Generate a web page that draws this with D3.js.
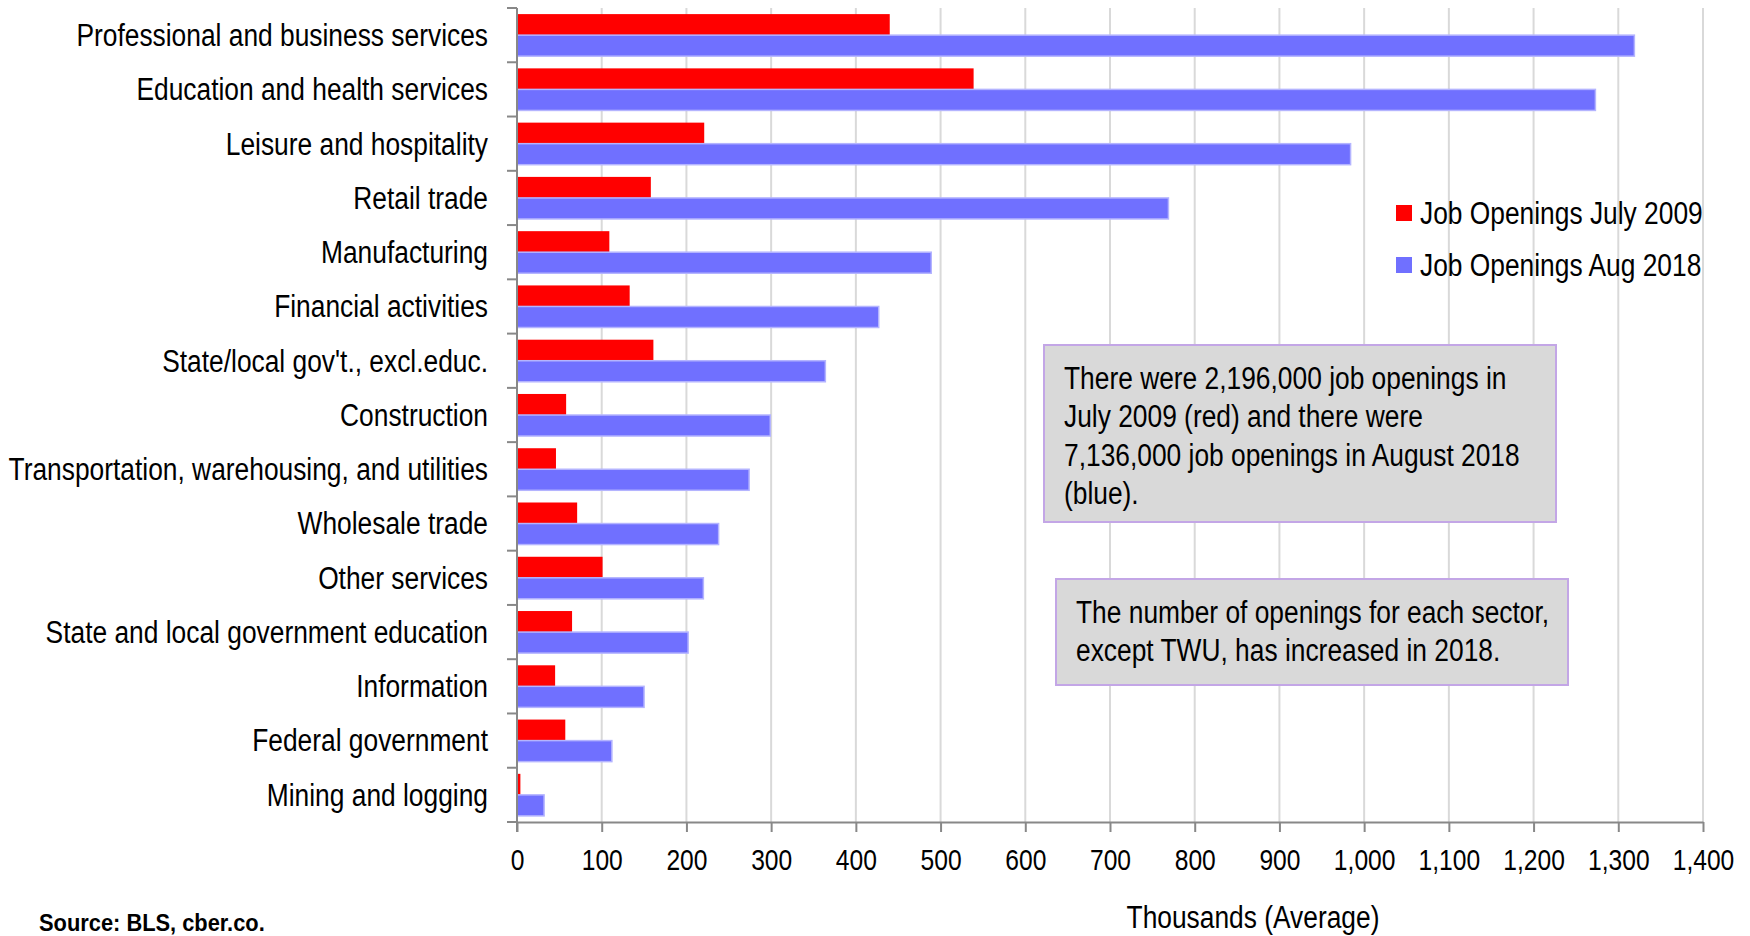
<!DOCTYPE html>
<html>
<head>
<meta charset="utf-8">
<script src="https://cdn.jsdelivr.net/npm/d3@7"></script>
<style>
  body { margin: 0; background: #fff; }
  svg text { font-family: "Liberation Sans", Arial, sans-serif; fill: #000; }
</style>
</head>
<body>
<div id="chart"></div>
<script>
// sectors, top to bottom
var categories = [
  "Professional and business services",
  "Education and health services",
  "Leisure and hospitality",
  "Retail trade",
  "Manufacturing",
  "Financial activities",
  "State/local gov't., excl.educ.",
  "Construction",
  "Transportation, warehousing, and utilities",
  "Wholesale trade",
  "Other services",
  "State and local government education",
  "Information",
  "Federal government",
  "Mining and logging"
];

// thousands
var july2009 = [440, 539, 221, 158, 109, 133, 161, 58, 46, 71, 101, 65, 45, 57, 4];
var aug2018 = [1319, 1273, 984, 769, 489, 427, 364, 299, 274, 238, 220, 202, 150, 112, 32];

var seriesNames = ["Job Openings July 2009", "Job Openings Aug 2018"];
var seriesColors = ["#ff0000", "#7070ff"];

var xTicks = d3.range(0, 1401, 100);

var note1 = [
  "There were 2,196,000 job openings in",
  "July 2009 (red) and there were",
  "7,136,000 job openings in August 2018",
  "(blue)."
];
var note2 = [
  "The number of openings for each sector,",
  "except TWU, has increased in 2018."
];

var width = 1750, height = 936;
var margin = { top: 8, right: 47, bottom: 114, left: 517 };
var fontSize = 31;
var narrow = 0.85; // no narrow font installed, squeeze glyphs instead

var svg = d3.select("#chart").append("svg")
  .attr("width", width)
  .attr("height", height);

var x = d3.scaleLinear()
  .domain([0, 1400])
  .range([margin.left, width - margin.right]);

var y = d3.scaleBand()
  .domain(categories)
  .range([margin.top, height - margin.bottom]);

var inner = d3.scaleBand()
  .domain([0, 1])
  .range([0, y.bandwidth()])
  .paddingOuter(0.29);

var rows = categories.map(function(c, i) {
  return { cat: c, values: [july2009[i], aug2018[i]] };
});

// gridlines
svg.append("g")
  .selectAll("line")
  .data(xTicks.filter(function(d) { return d > 0; }))
  .enter().append("line")
  .attr("x1", function(d) { return x(d); })
  .attr("x2", function(d) { return x(d); })
  .attr("y1", margin.top)
  .attr("y2", height - margin.bottom)
  .attr("stroke", "#d9d9d9")
  .attr("stroke-width", 2);

// bars
var group = svg.append("g")
  .selectAll("g")
  .data(rows)
  .enter().append("g")
  .attr("transform", function(d) { return "translate(0," + y(d.cat) + ")"; });

group.selectAll("rect")
  .data(function(d) { return d.values; })
  .enter().append("rect")
  .attr("x", x(0))
  .attr("y", function(d, i) { return inner(i); })
  .attr("width", function(d) { return x(d) - x(0); })
  .attr("height", inner.bandwidth())
  .attr("fill", function(d, i) { return seriesColors[i]; })
  .attr("stroke", function(d, i) { return i == 1 ? "#b4b4ff" : "none"; })
  .attr("stroke-width", 1.5);

// x axis
var xAxis = svg.append("g")
  .attr("transform", "translate(0," + (height - margin.bottom) + ")")
  .call(d3.axisBottom(x)
    .tickValues(xTicks)
    .tickFormat(d3.format(","))
    .tickSize(10)
    .tickPadding(17)
    .tickSizeOuter(0));

xAxis.attr("font-family", null);
xAxis.selectAll("text").style("font-size", "30px").attr("data-squeeze", 0.82);
xAxis.selectAll("line, path").attr("stroke", "#888").attr("stroke-width", 2);

// y axis: line plus ticks on band edges
var yAxis = svg.append("g");
yAxis.append("line")
  .attr("x1", x(0)).attr("x2", x(0))
  .attr("y1", margin.top).attr("y2", height - margin.bottom + 10)
  .attr("stroke", "#888").attr("stroke-width", 2);

var edges = categories.map(function(c) { return y(c); }).concat([height - margin.bottom]);
yAxis.selectAll(".edge")
  .data(edges)
  .enter().append("line")
  .attr("class", "edge")
  .attr("x1", x(0) - 10).attr("x2", x(0))
  .attr("y1", function(d) { return d; })
  .attr("y2", function(d) { return d; })
  .attr("stroke", "#888").attr("stroke-width", 2);

yAxis.selectAll(".cat")
  .data(categories)
  .enter().append("text")
  .attr("class", "cat")
  .attr("x", x(0) - 29)
  .attr("y", function(d) { return y(d) + y.bandwidth() / 2; })
  .attr("dy", "0.35em")
  .attr("text-anchor", "end")
  .style("font-size", fontSize + "px")
  .text(function(d) { return d; });

// legend
var legend = svg.append("g")
  .selectAll("g")
  .data(seriesNames)
  .enter().append("g")
  .attr("transform", function(d, i) { return "translate(1396," + (213 + i * 52) + ")"; });

legend.append("rect")
  .attr("x", 0).attr("y", -8)
  .attr("width", 16).attr("height", 16)
  .attr("fill", function(d, i) { return seriesColors[i]; });

legend.append("text")
  .attr("x", 24)
  .attr("dy", "0.35em")
  .style("font-size", fontSize + "px")
  .text(function(d) { return d; });

// note boxes
function noteBox(lines, x0, y0, w, h, firstY) {
  var g = svg.append("g");
  g.append("rect")
    .attr("x", x0).attr("y", y0)
    .attr("width", w).attr("height", h)
    .attr("fill", "#d9d9d9")
    .attr("stroke", "#c3a6e6")
    .attr("stroke-width", 2);
  g.selectAll("text")
    .data(lines)
    .enter().append("text")
    .attr("x", x0 + 20)
    .attr("y", function(d, i) { return firstY + i * 38.5; })
    .attr("dy", "0.35em")
    .style("font-size", fontSize + "px")
    .text(function(d) { return d; });
}

noteBox(note1, 1044, 345, 512, 177, 378);
noteBox(note2, 1056, 579, 512, 106, 612);

// axis title and source
svg.append("text")
  .attr("x", 1253)
  .attr("y", 928)
  .attr("text-anchor", "middle")
  .style("font-size", fontSize + "px")
  .text("Thousands (Average)");

svg.append("text")
  .attr("x", 39)
  .attr("y", 931)
  .style("font-size", "24px")
  .style("font-weight", "bold")
  .attr("data-squeeze", 0.91)
  .text("Source: BLS, cber.co.");

// squeeze every label to look like the condensed original
svg.selectAll("text").each(function() {
  var k = +(this.getAttribute("data-squeeze") || narrow);
  var len = this.getComputedTextLength();
  d3.select(this)
    .attr("textLength", len * k)
    .attr("lengthAdjust", "spacingAndGlyphs");
});
</script>
</body>
</html>
